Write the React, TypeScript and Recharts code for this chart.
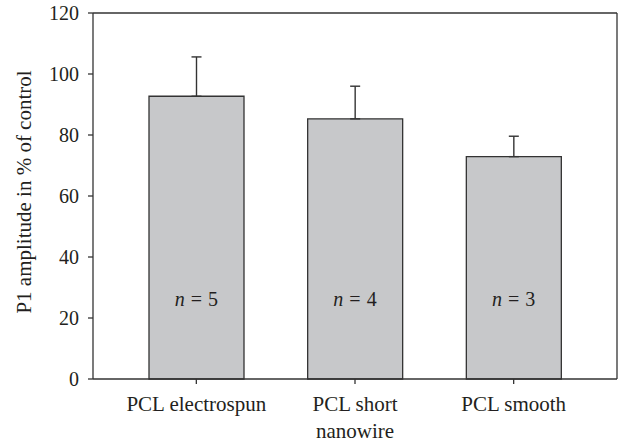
import React from "react"
import { Bar, BarChart, ErrorBar, ReferenceDot, XAxis, YAxis } from "recharts"

const categories = ["PCL electrospun", "PCL short nanowire", "PCL smooth"]
const categoryLines = [["PCL electrospun"], ["PCL short", "nanowire"], ["PCL smooth"]]
const amplitude = [92.7, 85.3, 72.9]
const errorUpper = [12.9, 10.7, 6.7]
const sampleSizes = [5, 4, 3]
const yTicks = [0, 20, 40, 60, 80, 100, 120]
const nLabelAt = 24

const font = "Liberation Serif, Times New Roman, DejaVu Serif, serif"
const ink = "#231f20"
const line = "#333333"

const data = categories.map((name, i) => ({
  name,
  amplitude: amplitude[i],
  err: [0, errorUpper[i]],
}))

const CategoryTick = (props: any) => {
  const { x, y, index } = props
  const lines = categoryLines[index] || [props.payload.value]
  return (
    <text x={x} y={y + 25} textAnchor="middle" style={{ fontFamily: font }} fontSize={21} fill={ink}>
      {lines.map((l: string, i: number) => (
        <tspan key={i} x={x} dy={i === 0 ? 0 : 27}>
          {l}
        </tspan>
      ))}
    </text>
  )
}

const YLabel = (props: any) => {
  const { viewBox } = props
  const cx = 24
  const cy = viewBox.y + viewBox.height / 2 - 4
  return (
    <text
      x={cx}
      y={cy}
      transform={`rotate(-90 ${cx} ${cy})`}
      textAnchor="middle"
      dominantBaseline="central"
      style={{ fontFamily: font }}
      fontSize={21}
      fill={ink}
    >
      P1 amplitude in % of control
    </text>
  )
}

export default function App() {
  return (
    <div style={{ position: "absolute", left: 0, top: 0, width: 619, height: 442, background: "#fff", fontFamily: font }}>
      <BarChart width={619} height={442} data={data} margin={{ top: 12, right: 1, left: 0, bottom: 0 }}>
        <XAxis
          dataKey="name"
          height={63}
          padding={{ left: 24, right: 24 }}
          tickSize={5}
          tickMargin={2}
          tick={<CategoryTick />}
          tickLine={{ stroke: line, strokeWidth: 1.3 }}
          axisLine={{ stroke: line, strokeWidth: 1.3 }}
        />
        <XAxis
          xAxisId="top"
          dataKey="name"
          orientation="top"
          height={1}
          tick={false}
          tickLine={false}
          axisLine={{ stroke: line, strokeWidth: 1.3 }}
        />
        <YAxis
          domain={[0, 120]}
          ticks={yTicks}
          width={93}
          tickSize={5}
          tickMargin={9}
          interval={0}
          tick={{ fontFamily: font, fontSize: 20, fill: ink }}
          tickLine={{ stroke: line, strokeWidth: 1.3 }}
          axisLine={{ stroke: line, strokeWidth: 1.3 }}
          label={<YLabel />}
        />
        <YAxis
          yAxisId="right"
          orientation="right"
          domain={[0, 120]}
          width={1}
          tick={false}
          tickLine={false}
          axisLine={{ stroke: line, strokeWidth: 1.3 }}
        />
        <Bar dataKey="amplitude" barSize={95} fill="#c7c8ca" stroke={line} strokeWidth={1.3} isAnimationActive={false}>
          <ErrorBar dataKey="err" width={5} stroke={line} strokeWidth={1.4} direction="y" />
        </Bar>
        {categories.map((c, i) => (
          <ReferenceDot
            key={c}
            x={c}
            y={nLabelAt}
            r={1}
            fill="none"
            stroke="none"
            label={(p: any) => {
              const vb = p.viewBox
              const tx = vb.x + vb.width / 2
              const ty = vb.y + vb.height / 2
              return (
                <text x={tx} y={ty} textAnchor="middle" style={{ fontFamily: font }} fontSize={20} fill={ink}>
                  <tspan fontStyle="italic">n</tspan>
                  <tspan dx={6}>=</tspan>
                  <tspan dx={6}>{sampleSizes[i]}</tspan>
                </text>
              )
            }}
          />
        ))}
      </BarChart>
    </div>
  )
}
